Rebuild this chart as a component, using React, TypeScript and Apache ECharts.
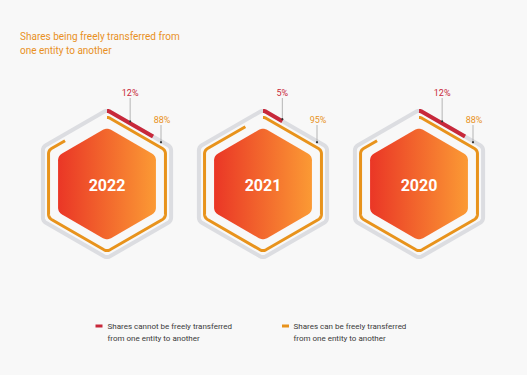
import React, { useEffect, useRef } from "react";
import * as echarts from "echarts";

const years = ["2022", "2021", "2020"];
const cannotValues = [12, 5, 12];
const canValues = [88, 95, 88];
const titleText = "Shares being freely transferred from\none entity to another";
const legendCannot = "Shares cannot be freely transferred\nfrom one entity to another";
const legendCan = "Shares can be freely transferred\nfrom one entity to another";

const RED = "#c8283a";
const ORANGE = "#e8931c";
const GREY = "#dcdde1";

type Pt = [number, number];

function roundedHex(cx: number, cy: number, R: number, r: number, steps = 10): Pt[] {
  const pts: Pt[] = [];
  const k = 1 / Math.sin(Math.PI / 3);
  const arc = (i: number, a0: number, a1: number) => {
    const th = -Math.PI / 2 + i * (Math.PI / 3);
    const ccx = cx + (R - k * r) * Math.cos(th);
    const ccy = cy + (R - k * r) * Math.sin(th);
    for (let s = 0; s <= steps; s++) {
      const a = a0 + ((a1 - a0) * s) / steps;
      pts.push([ccx + r * Math.cos(a), ccy + r * Math.sin(a)]);
    }
  };
  for (let i = 0; i < 6; i++) {
    const th = -Math.PI / 2 + i * (Math.PI / 3);
    arc(i, i === 0 ? th : th - Math.PI / 6, th + Math.PI / 6);
  }
  const th0 = -Math.PI / 2;
  arc(0, th0 - Math.PI / 6, th0);
  return pts;
}

function partial(pts: Pt[], frac: number): Pt[] {
  let total = 0;
  const seg: number[] = [];
  for (let i = 1; i < pts.length; i++) {
    const d = Math.hypot(pts[i][0] - pts[i - 1][0], pts[i][1] - pts[i - 1][1]);
    seg.push(d);
    total += d;
  }
  const target = total * Math.max(0, Math.min(1, frac));
  const out: Pt[] = [pts[0]];
  let acc = 0;
  for (let i = 1; i < pts.length; i++) {
    const d = seg[i - 1];
    if (acc + d >= target) {
      const t = d === 0 ? 0 : (target - acc) / d;
      out.push([
        pts[i - 1][0] + (pts[i][0] - pts[i - 1][0]) * t,
        pts[i - 1][1] + (pts[i][1] - pts[i - 1][1]) * t,
      ]);
      return out;
    }
    acc += d;
    out.push(pts[i]);
  }
  return out;
}

export default function App() {
  const ref = useRef<HTMLDivElement>(null);
  useEffect(() => {
    if (!ref.current) return;
    const chart = echarts.init(ref.current, undefined, { renderer: "svg" });
    const data = years.map((_, i) => [i, cannotValues[i], canValues[i]]);
    const R_OUT = 74;
    const R_MID = 67.5;
    const R_FILL = 56.5;

    const renderItem = (params: any, api: any) => {
      const idx = api.value(0);
      const red = api.value(1);
      const orange = api.value(2);
      const [cx, cy] = api.coord([idx, 0.5]);
      const outer = roundedHex(cx, cy, R_OUT, 6);
      const mid = roundedHex(cx, cy, R_MID, 6);
      const fill = roundedHex(cx, cy, R_FILL, 8);
      const redPts = partial(outer, red / 100);
      const orangePts = partial(mid, orange / 100);
      const leadPt = partial(outer, Math.min(red, 6) / 100);
      const rp = leadPt[leadPt.length - 1];
      const ox = cx + 54;
      const oy = cy - R_OUT + 54 * Math.tan(Math.PI / 6) + 1;
      return {
        type: "group",
        children: [
          {
            type: "polyline",
            shape: { points: outer },
            style: { stroke: GREY, lineWidth: 4, fill: "none", lineJoin: "round" },
          },
          {
            type: "polyline",
            shape: { points: redPts },
            style: { stroke: RED, lineWidth: 4, fill: "none", lineCap: "butt" },
          },
          {
            type: "polyline",
            shape: { points: orangePts },
            style: { stroke: ORANGE, lineWidth: 3, fill: "none", lineCap: "butt" },
          },
          {
            type: "polygon",
            shape: { points: fill.slice(0, fill.length - 1) },
            style: {
              fill: new echarts.graphic.LinearGradient(0, 0, 1, 0, [
                { offset: 0, color: "#ea3626" },
                { offset: 1, color: "#fb9a34" },
              ]),
            },
          },
          {
            type: "text",
            x: cx,
            y: cy + 1,
            style: {
              text: years[idx],
              fill: "#ffffff",
              font: "bold 16px Roboto",
              align: "center",
              verticalAlign: "middle",
            },
          },
          {
            type: "line",
            shape: { x1: rp[0], y1: cy - 86, x2: rp[0], y2: rp[1] - 2 },
            style: { stroke: "#9a9a9a", lineWidth: 0.7 },
          },
          {
            type: "circle",
            shape: { cx: rp[0], cy: rp[1] - 2, r: 1.1 },
            style: { fill: "#333" },
          },
          {
            type: "text",
            x: rp[0],
            y: cy - 91,
            style: {
              text: red + "%",
              fill: RED,
              font: "9px Roboto",
              align: "center",
              verticalAlign: "middle",
            },
          },
          {
            type: "line",
            shape: { x1: ox, y1: cy - 59, x2: ox, y2: oy },
            style: { stroke: "#9a9a9a", lineWidth: 0.7 },
          },
          {
            type: "circle",
            shape: { cx: ox, cy: oy, r: 1.1 },
            style: { fill: "#333" },
          },
          {
            type: "text",
            x: ox + 1,
            y: cy - 64,
            style: {
              text: orange + "%",
              fill: ORANGE,
              font: "9px Roboto",
              align: "center",
              verticalAlign: "middle",
            },
          },
        ],
      };
    };

    chart.setOption({
      animation: false,
      backgroundColor: "#f8f8f8",
      title: {
        text: titleText,
        left: 20,
        top: 29,
        padding: 0,
        textStyle: {
          color: "#e8901e",
          fontSize: 10,
          fontWeight: "normal",
          fontFamily: "Roboto",
          lineHeight: 14,
        },
      },
      grid: { left: 29, width: 468, top: 100, height: 168 },
      xAxis: { type: "category", data: years, show: false },
      yAxis: { type: "value", min: 0, max: 1, show: false },
      series: [
        {
          type: "custom",
          renderItem,
          data,
          silent: true,
        },
      ],
      graphic: [
        { type: "rect", shape: { x: 95.5, y: 324.5, width: 7, height: 3 }, style: { fill: RED } },
        {
          type: "text",
          x: 107.5,
          y: 320.5,
          style: {
            text: legendCannot,
            fill: "#3a3a3a",
            font: "8px Roboto",
            lineHeight: 11.7,
            verticalAlign: "top",
          },
        },
        { type: "rect", shape: { x: 282, y: 324.5, width: 7, height: 3 }, style: { fill: ORANGE } },
        {
          type: "text",
          x: 293.5,
          y: 320.5,
          style: {
            text: legendCan,
            fill: "#3a3a3a",
            font: "8px Roboto",
            lineHeight: 11.7,
            verticalAlign: "top",
          },
        },
      ],
    });
    return () => chart.dispose();
  }, []);
  return (
    <div
      ref={ref}
      style={{ position: "absolute", left: 0, top: 0, width: 527, height: 375 }}
    />
  );
}
